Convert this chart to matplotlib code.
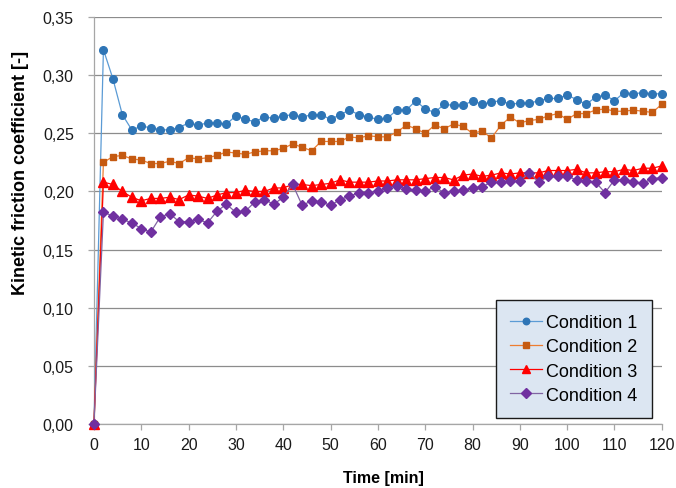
import numpy as np
import matplotlib
matplotlib.use('Agg')
import matplotlib.pyplot as plt
from matplotlib.ticker import FuncFormatter, MultipleLocator

plt.rcParams['font.family'] = ['Liberation Sans', 'DejaVu Sans']

# Time axis: one reading every 2 minutes
time_min = list(range(0, 121, 2))

labels = ['Condition 1', 'Condition 2', 'Condition 3', 'Condition 4']

cond1 = [0.000, 0.322, 0.297, 0.266, 0.253, 0.256, 0.255, 0.253, 0.253, 0.255,
         0.259, 0.257, 0.259, 0.259, 0.258, 0.265, 0.262, 0.260, 0.264, 0.263,
         0.265, 0.266, 0.264, 0.266, 0.266, 0.262, 0.266, 0.270, 0.266, 0.264,
         0.262, 0.263, 0.270, 0.270, 0.278, 0.271, 0.268, 0.275, 0.274, 0.274,
         0.278, 0.275, 0.277, 0.278, 0.275, 0.276, 0.276, 0.278, 0.280, 0.280,
         0.283, 0.279, 0.275, 0.281, 0.283, 0.278, 0.285, 0.284, 0.285, 0.284,
         0.284]

cond2 = [0.000, 0.225, 0.230, 0.231, 0.228, 0.227, 0.224, 0.224, 0.226, 0.224,
         0.229, 0.228, 0.229, 0.231, 0.234, 0.233, 0.232, 0.234, 0.235, 0.235,
         0.237, 0.241, 0.238, 0.235, 0.243, 0.243, 0.243, 0.247, 0.246, 0.248,
         0.247, 0.247, 0.251, 0.257, 0.254, 0.250, 0.257, 0.254, 0.258, 0.256,
         0.250, 0.252, 0.246, 0.257, 0.264, 0.259, 0.261, 0.262, 0.265, 0.267,
         0.262, 0.267, 0.267, 0.270, 0.271, 0.269, 0.269, 0.270, 0.269, 0.268,
         0.275]

cond3 = [0.000, 0.208, 0.206, 0.200, 0.195, 0.192, 0.194, 0.194, 0.195, 0.193,
         0.197, 0.196, 0.194, 0.197, 0.199, 0.199, 0.201, 0.200, 0.200, 0.203,
         0.203, 0.206, 0.206, 0.205, 0.206, 0.207, 0.210, 0.208, 0.208, 0.208,
         0.209, 0.209, 0.210, 0.210, 0.210, 0.211, 0.212, 0.212, 0.210, 0.214,
         0.215, 0.213, 0.214, 0.216, 0.215, 0.216, 0.216, 0.216, 0.218, 0.218,
         0.218, 0.219, 0.216, 0.216, 0.217, 0.217, 0.219, 0.218, 0.220, 0.220,
         0.222]

cond4 = [0.000, 0.182, 0.179, 0.176, 0.173, 0.168, 0.165, 0.178, 0.181, 0.174,
         0.174, 0.176, 0.173, 0.183, 0.189, 0.182, 0.183, 0.191, 0.193, 0.189,
         0.195, 0.206, 0.188, 0.192, 0.191, 0.188, 0.193, 0.196, 0.199, 0.199,
         0.200, 0.203, 0.205, 0.202, 0.201, 0.200, 0.204, 0.199, 0.200, 0.201,
         0.203, 0.204, 0.208, 0.208, 0.209, 0.209, 0.216, 0.208, 0.213, 0.213,
         0.213, 0.210, 0.209, 0.208, 0.199, 0.210, 0.210, 0.208, 0.207, 0.211,
         0.212]

series = [cond1, cond2, cond3, cond4]
markers = ['o', 's', '^', 'D']
marker_sizes = [5.5, 5, 6.5, 5.5]
marker_colors = ['#2E75B6', '#C55A11', '#FF0000', '#7030A0']
line_colors = ['#5B9BD5', '#ED7D31', '#FF0000', '#8064A2']

fig = plt.figure(figsize=(6.76, 4.89), dpi=100)
ax = fig.add_axes([0.139, 0.131, 0.840, 0.832])

for vals, lab, m, ms, mc, lc in zip(series, labels, markers, marker_sizes, marker_colors, line_colors):
    ax.plot(time_min, vals, color=lc, linewidth=0.9, marker=m, markersize=ms,
            markerfacecolor=mc, markeredgecolor=mc, label=lab, clip_on=False, zorder=3)

ax.set_xlim(0, 120)
ax.set_ylim(0, 0.35)
ax.xaxis.set_major_locator(MultipleLocator(10))
ax.yaxis.set_major_locator(MultipleLocator(0.05))
ax.yaxis.set_major_formatter(FuncFormatter(lambda v, p: f'{v:.2f}'.replace('.', ',')))

ax.grid(axis='y', color='#8c8c8c', linewidth=0.9)
ax.set_axisbelow(True)
for s in ['top', 'right']:
    ax.spines[s].set_visible(False)
for s in ['left', 'bottom']:
    ax.spines[s].set_color('#a6a6a6')
    ax.spines[s].set_linewidth(0.9)
ax.tick_params(axis='both', direction='out', length=4.5, width=0.9, color='#a6a6a6',
               labelsize=11.5, labelcolor='#1a1a1a')
ax.tick_params(axis='y', pad=10)
ax.tick_params(axis='x', pad=5)

ax.set_xlabel('Time [min]', fontsize=11.5, fontweight='bold')
ax.xaxis.set_label_coords(0.51, -0.112)
ax.set_ylabel('Kinetic friction coefficient [-]', fontsize=13, fontweight='bold')
ax.yaxis.set_label_coords(-0.114, 0.62)

leg = ax.legend(loc='lower right', bbox_to_anchor=(0.983, 0.014), borderaxespad=0,
                fontsize=13, frameon=True, fancybox=False, labelspacing=0.4,
                handlelength=1.75, handletextpad=0.25, borderpad=0.8, markerscale=0.85)
leg.get_frame().set_facecolor('#dce6f2')
leg.get_frame().set_edgecolor('#1a1a1a')
leg.get_frame().set_alpha(1)
leg.get_frame().set_linewidth(1.0)

fig.savefig('out.png', dpi=100)
